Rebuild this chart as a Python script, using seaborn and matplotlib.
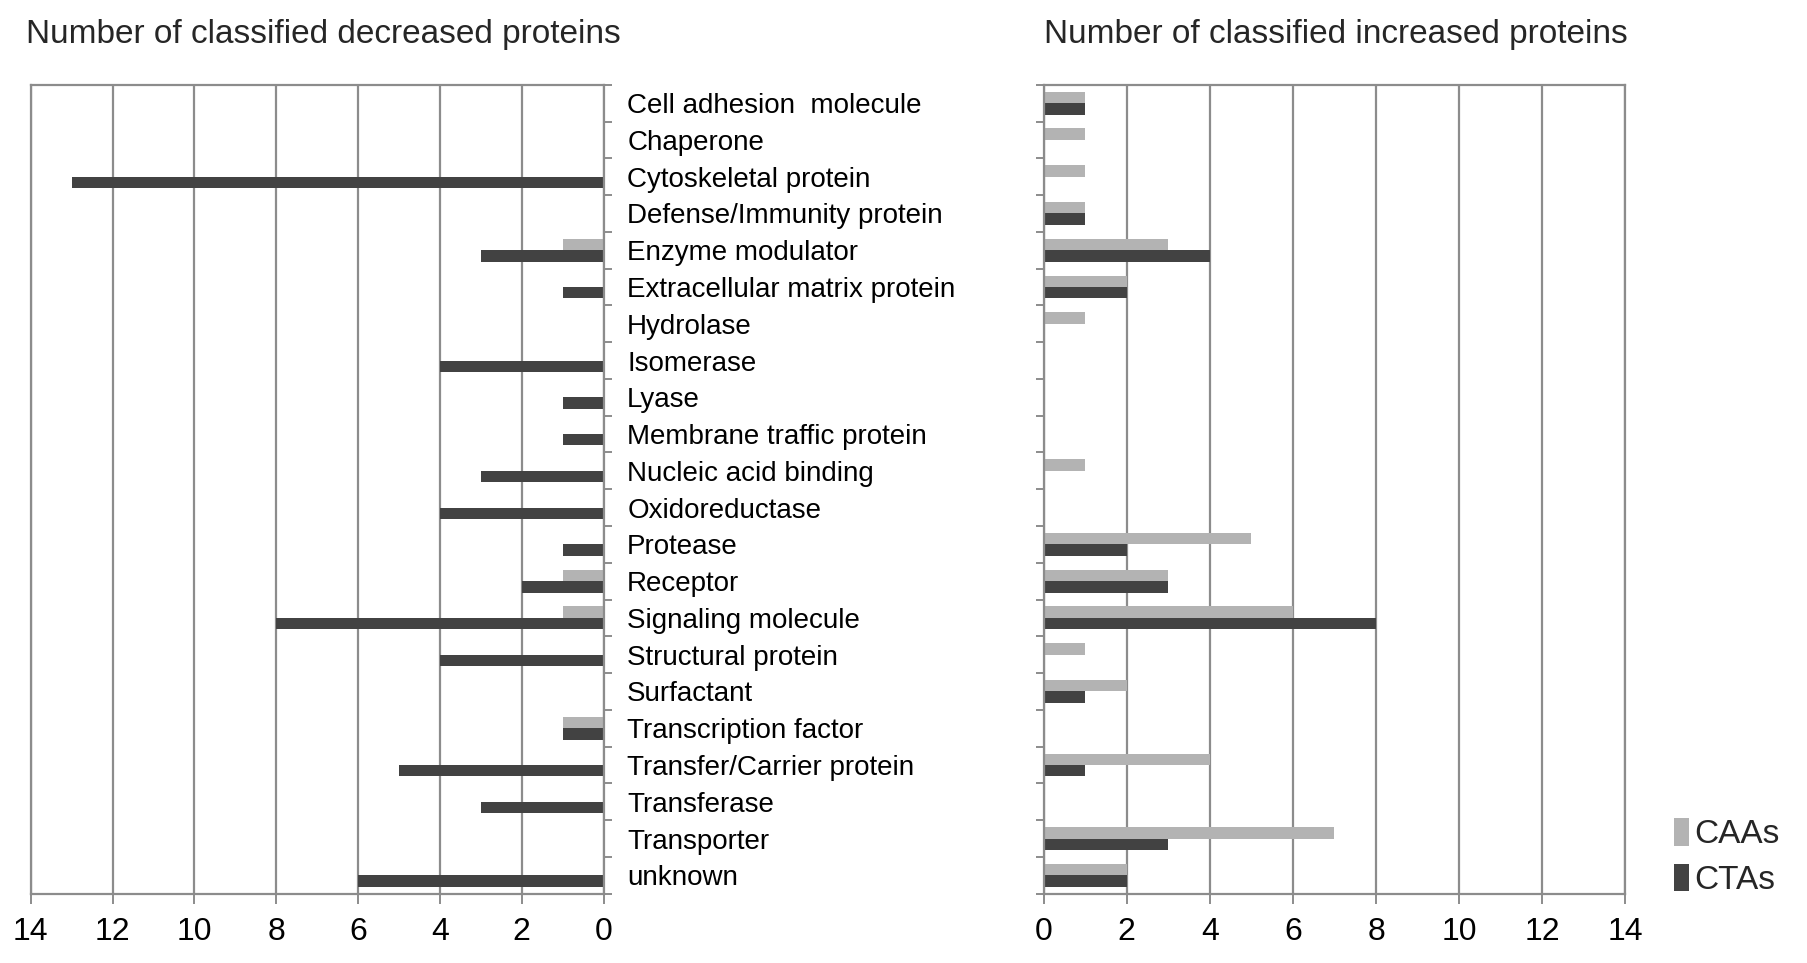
import pandas as pd
import matplotlib.pyplot as plt
import seaborn as sns
from matplotlib.patches import Patch

sns.set_theme(style="white")
plt.rcParams['font.family'] = ['Liberation Sans', 'DejaVu Sans']

# Categories, top to bottom
categories = [
    "Cell adhesion  molecule", "Chaperone", "Cytoskeletal protein",
    "Defense/Immunity protein", "Enzyme modulator", "Extracellular matrix protein",
    "Hydrolase", "Isomerase", "Lyase", "Membrane traffic protein",
    "Nucleic acid binding", "Oxidoreductase", "Protease", "Receptor",
    "Signaling molecule", "Structural protein", "Surfactant",
    "Transcription factor", "Transfer/Carrier protein", "Transferase",
    "Transporter", "unknown",
]

# Decreased proteins
dec_caas = [0, 0, 0, 0, 1, 0, 0, 0, 0, 0, 0, 0, 0, 1, 1, 0, 0, 1, 0, 0, 0, 0]
dec_ctas = [0, 0, 13, 0, 3, 1, 0, 4, 1, 1, 3, 4, 1, 2, 8, 4, 0, 1, 5, 3, 0, 6]

# Increased proteins
inc_caas = [1, 1, 1, 1, 3, 2, 1, 0, 0, 0, 1, 0, 5, 3, 6, 1, 2, 0, 4, 0, 7, 2]
inc_ctas = [1, 0, 0, 1, 4, 2, 0, 0, 0, 0, 0, 0, 2, 3, 8, 0, 1, 0, 1, 0, 3, 2]

groups = ["CAAs", "CTAs"]
palette = {"CAAs": "#b3b3b3", "CTAs": "#424242"}
grid_col = "#8c8c8c"


def long_df(caas, ctas):
    return pd.DataFrame({
        "Category": categories * 2,
        "Group": ["CAAs"] * len(categories) + ["CTAs"] * len(categories),
        "Count": caas + ctas,
    })


dec_df = long_df(dec_caas, dec_ctas)
inc_df = long_df(inc_caas, inc_ctas)

fig = plt.figure(figsize=(18.07, 9.63), dpi=100)
ax_l = fig.add_axes([0.017, 0.072, 0.317, 0.84])
ax_r = fig.add_axes([0.5775, 0.072, 0.322, 0.84])

for ax, df in [(ax_l, dec_df), (ax_r, inc_df)]:
    sns.barplot(data=df, y="Category", x="Count", hue="Group", order=categories,
                hue_order=groups, palette=palette, saturation=1, width=0.62,
                orient="h", ax=ax, legend=False)
    ax.set_xlim(0, 14)
    ax.set_xticks(range(0, 15, 2))
    ax.set_ylim(len(categories) - 0.5, -0.5)
    ax.set_xlabel("")
    ax.set_ylabel("")
    ax.xaxis.grid(True, color=grid_col, lw=1.6)
    ax.yaxis.grid(False)
    ax.set_axisbelow(True)
    for s in ax.spines.values():
        s.set_color(grid_col)
        s.set_linewidth(1.6)
    ax.tick_params(axis="x", which="major", bottom=True, length=7, width=1.4,
                   color=grid_col, labelsize=23, pad=10, labelcolor="black")
    ax.set_yticks([i - 0.5 for i in range(len(categories) + 1)], minor=True)
    for p in ax.patches:
        p.set_edgecolor("none")

# Left panel reversed, category labels on the right side
ax_l.set_xlim(14, 0)
ax_l.yaxis.tick_right()
ax_l.set_yticks(range(len(categories)))
ax_l.set_yticklabels(categories, ha="left", fontsize=20)
ax_l.tick_params(axis="y", which="major", length=0, pad=17, labelcolor="black")
ax_l.tick_params(axis="y", which="minor", right=True, left=False, length=6,
                 width=1.4, color=grid_col)

ax_r.set_yticks(range(len(categories)))
ax_r.set_yticklabels([])
ax_r.tick_params(axis="y", which="major", length=0)
ax_r.tick_params(axis="y", which="minor", left=True, length=6, width=1.4,
                 color=grid_col)

ax_l.set_title("Number of classified decreased proteins", fontsize=24,
               loc="left", x=-0.008, pad=30)
ax_r.set_title("Number of classified increased proteins", fontsize=24,
               loc="left", x=0.0, pad=30)

handles = [Patch(facecolor=palette[g], edgecolor="none", label=g) for g in groups]
fig.legend(handles=handles, loc="center left", bbox_to_anchor=(0.91, 0.11),
           frameon=False, fontsize=24, handlelength=0.45, handleheight=0.9,
           handletextpad=0.15, labelspacing=0.4)

fig.savefig("out.png", dpi=100)
